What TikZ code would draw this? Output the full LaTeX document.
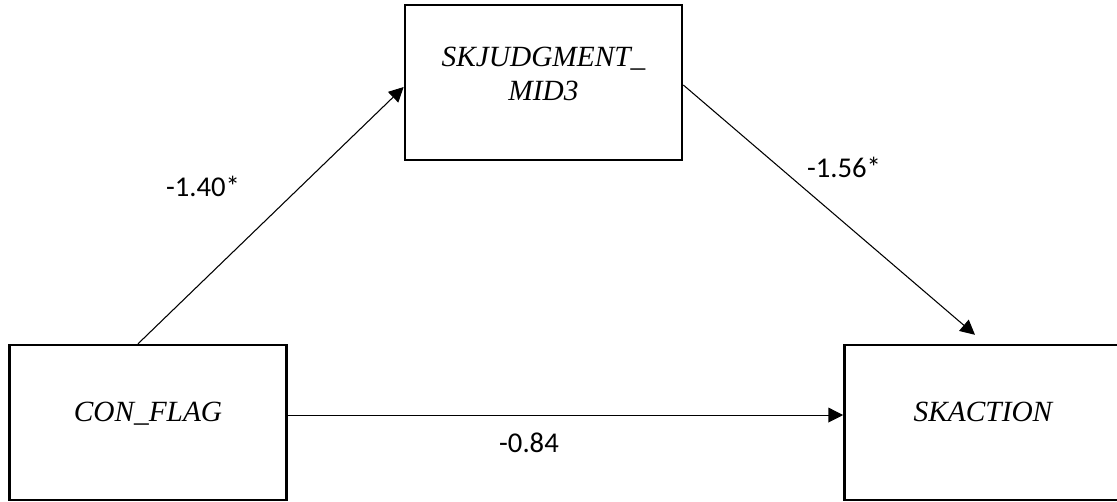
\documentclass[tikz,border=0pt]{standalone}
\usepackage{fontspec}
\setmainfont{Liberation Serif}
\newfontfamily\coeffont{Carlito}
\usetikzlibrary{arrows.meta, calc}

\begin{document}
\begin{tikzpicture}[x=0.75pt, y=-0.75pt]
    \tikzstyle{var} = [rectangle, draw=black, line width=1.8pt, minimum width=208pt, minimum height=116.25pt, align=center, inner sep=0pt, font=\fontsize{22}{25}\selectfont\itshape]
    \tikzstyle{coef} = [inner sep=0pt, font=\coeffont\fontsize{21.5}{24}\selectfont]
    \tikzstyle{arrow} = [line width=0.8pt, -{Triangle[length=11pt, width=11pt]}]
    \useasboundingbox (0,0) rectangle (1117,501);
    % Nodes
    \node (mid) [var, text height=30pt, text depth=3.75pt] at (543.5,82.5) {SKJUDGMENT\_\\MID3};
    \node (con) [var, text height=6pt, text depth=7pt] at (148,422.5) {CON\_FLAG};
    \node (act) [var, text height=6pt, text depth=7pt] at (983,422.5) {SKACTION};
    \node (b1) [coef] at (203,186) {-1.40*};
    \node (b2) [coef] at (844,167) {-1.56*};
    \node (b3) [coef] at (529,443) {-0.84};
    % Arrows
    \draw [arrow] ([xshift=-7.5pt]con.north) -- ([yshift=-3.4pt]mid.west);
    \draw [arrow] ([yshift=-1.9pt]mid.east) -- ([xshift=-6pt, yshift=6.75pt]act.north);
    \draw [arrow] ([yshift=5.6pt]con.east) -- ([yshift=5.6pt]act.west);
\end{tikzpicture}
\end{document}
